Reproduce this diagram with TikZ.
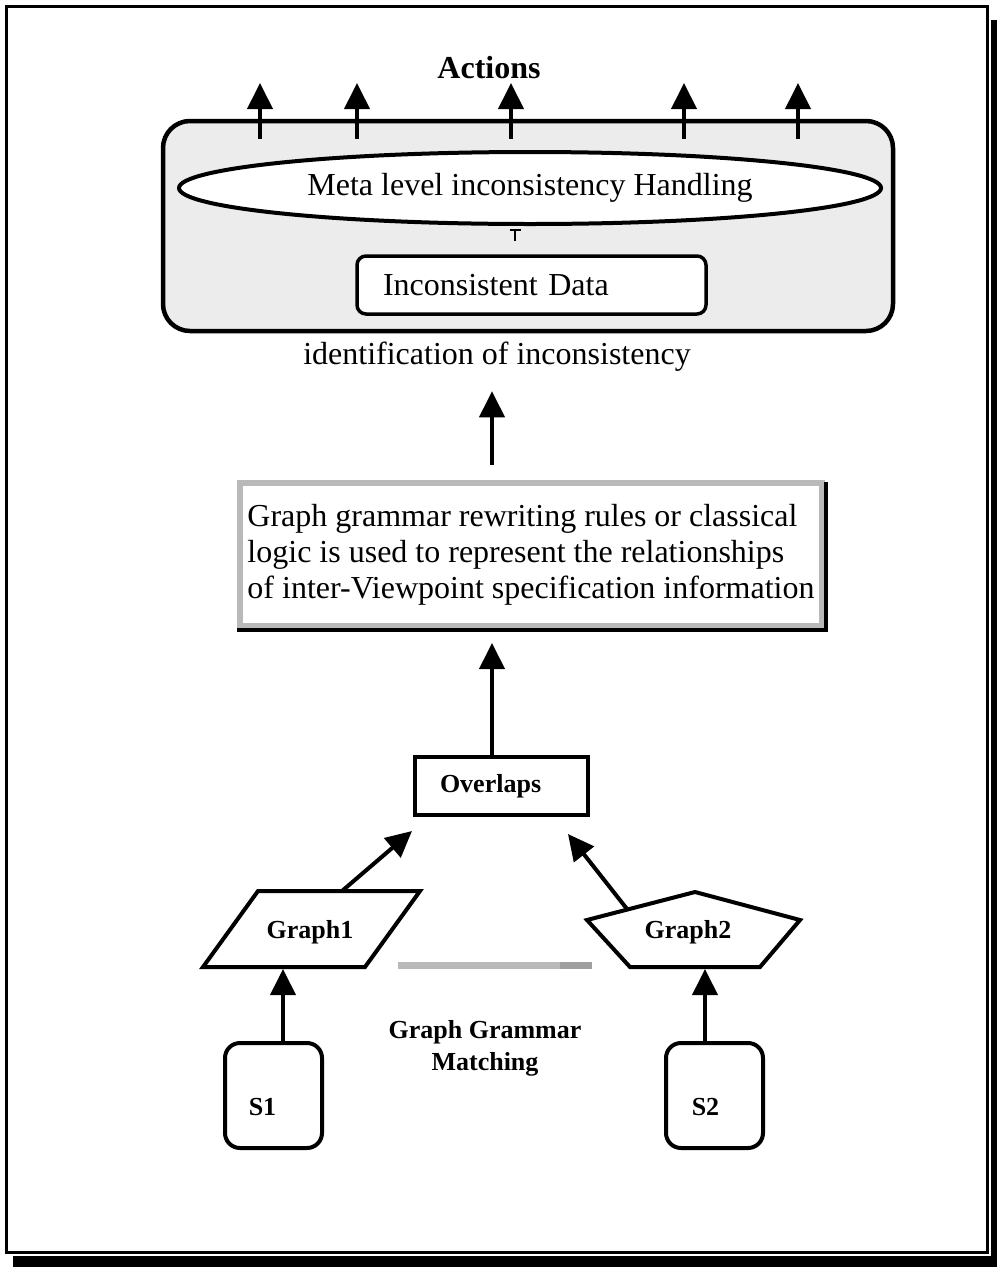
\documentclass[tikz,border=0pt]{standalone}
\usepackage{fontspec}
\setmainfont{Liberation Serif}
\usetikzlibrary{arrows.meta,shapes.geometric,calc}

\begin{document}
\begin{tikzpicture}[x=1pt,y=-1pt,
  arr/.style={line width=4pt,-{Triangle[length=26pt,width=25pt]}},
  plain/.style={font=\fontsize{32}{36}\selectfont},
  boldlbl/.style={font=\fontsize{26}{32}\selectfont\bfseries},
  edge/.style={draw=black,line width=4pt},
]
\useasboundingbox (0,0) rectangle (997,1267);

% page frame with its offset shadow
\fill[black] (13,20) rectangle (997,1267);
\fill[white] (0,0) rectangle (990.5,1255.5);
\draw[line width=3pt] (6.5,6.5) rectangle (987,1252.5);

% upper panel: meta level handling
\node[edge,line width=4.5pt,fill=gray!15,rounded corners=27pt,
      minimum width=730pt,minimum height=210pt,inner sep=0pt] (panel) at (528,226) {};
\node[ellipse,edge,fill=white,minimum width=702pt,minimum height=72pt,inner sep=0pt,plain]
  (meta) at (530,188) {Meta level inconsistency Handling};
\node[edge,line width=3.5pt,fill=white,rounded corners=9pt,minimum width=349pt,
      minimum height=58pt,text width=297pt,inner xsep=26pt,align=left,plain]
  (idata) at (531.5,285) {Inconsistent Data};
\coordinate (tlow) at (515,241);
\coordinate (thigh) at (515,229);
\draw[line width=1.6pt,-{Bar[width=11pt,line width=2.4pt]}] (tlow) -- (thigh);

% outgoing actions
\node[font=\fontsize{32}{36}\selectfont\bfseries] (actions) at (489,68) {Actions};
\foreach \x [count=\i] in {260,357,511,684,798} {
  \coordinate (out\i) at (\x,83);
  \draw[arr] ($(panel.north -| out\i)+(0,20)$) -- (out\i);
}

\node[plain] (ident) at (497,357) {identification of inconsistency};

% rule box
\node[draw=gray!55,line width=6pt,minimum width=582pt,minimum height=143pt,
      inner xsep=5pt,align=left,plain] (gg) at (531,554.5)
  {Graph grammar rewriting rules or classical\\
   logic is used to represent the relationships\\
   of inter-Viewpoint specification information};
\draw[line width=4pt] ($(gg.north east)+(1,2)$) -- ($(gg.south east)+(1,1)$) -- ($(gg.south west)+(0,1)$);

\coordinate (spine) at (492,0);
\draw[arr,shorten <=15pt] (gg.north -| spine) -- ($(ident.south -| spine)+(0,16)$);

% overlaps
\node[edge,minimum width=173pt,minimum height=58pt,text width=123pt,inner xsep=25pt,
      align=left,boldlbl] (overlaps) at (501.5,786) {Overlaps};
\draw[arr,shorten >=14pt] (overlaps.north -| spine) -- (gg.south -| spine);

% graph shapes
\draw[edge,fill=white] (258,891) -- (420,891) -- (365,967) -- (203,967) -- cycle;
\node[boldlbl] (g1) at (310,932) {Graph1};
\draw[edge,fill=white] (695,892) -- (800,920) -- (760,967) -- (630,967) -- (587,920) -- cycle;
\node[boldlbl] (g2) at (688,932) {Graph2};

\coordinate (g1top) at (342,891);
\coordinate (g2top) at (627,909);
\draw[arr] (g1top) -- ($(overlaps.south west)+(-1,14)$);
\draw[arr] (g2top) -- ($(overlaps.south east)+(-22,17)$);

% matching bar and caption
\fill[gray!55] (398,962) rectangle (592,969);
\fill[gray!75] (560,962) rectangle (592,969);
\node[boldlbl,align=center] (match) at (485,1048) {Graph Grammar\\Matching};

% specification boxes
\node[edge,rounded corners=15pt,minimum width=97pt,minimum height=105pt,inner sep=0pt] (s1) at (273.5,1095.5) {};
\node[boldlbl] at ($(s1.center)+(-11,12)$) {S1};
\node[edge,rounded corners=15pt,minimum width=97pt,minimum height=105pt,inner sep=0pt] (s2) at (714.5,1095.5) {};
\node[boldlbl] at ($(s2.center)+(-9,12)$) {S2};

\coordinate (g1bot) at (283,969);
\coordinate (g2bot) at (705,969);
\draw[arr] (s1.north -| g1bot) -- (g1bot);
\draw[arr] (s2.north -| g2bot) -- (g2bot);
\end{tikzpicture}
\end{document}
